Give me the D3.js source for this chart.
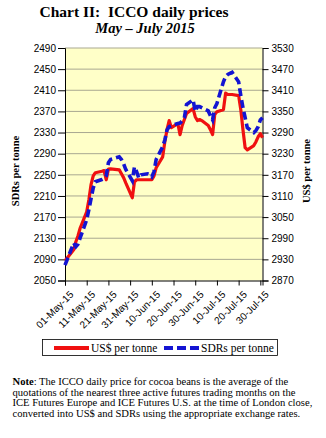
<!DOCTYPE html>
<html><head><meta charset="utf-8">
<script src="https://cdn.jsdelivr.net/npm/d3@7"></script>
<style>body{margin:0;background:#fff}svg{display:block}</style>
</head><body>
<svg id="c" width="326" height="438"></svg>
<script>
const dates = ["2015-05-01","2015-05-05","2015-05-06","2015-05-07","2015-05-08",
"2015-05-11","2015-05-12","2015-05-13","2015-05-14","2015-05-15",
"2015-05-18","2015-05-19","2015-05-20","2015-05-21","2015-05-22",
"2015-05-26","2015-05-27","2015-05-28","2015-05-29",
"2015-06-01","2015-06-02","2015-06-03","2015-06-04","2015-06-05",
"2015-06-08","2015-06-09","2015-06-10","2015-06-11","2015-06-12",
"2015-06-15","2015-06-16","2015-06-17","2015-06-18","2015-06-19",
"2015-06-22","2015-06-23","2015-06-24","2015-06-25","2015-06-26",
"2015-06-29","2015-06-30","2015-07-01","2015-07-02","2015-07-03",
"2015-07-06","2015-07-07","2015-07-08","2015-07-09","2015-07-10",
"2015-07-13","2015-07-14","2015-07-15","2015-07-16","2015-07-17",
"2015-07-20","2015-07-21","2015-07-22","2015-07-23","2015-07-24",
"2015-07-27","2015-07-28","2015-07-29","2015-07-30","2015-07-31"];
const usdPerTonne = [2926,2957,2980,2997,3019,
3065,3099,3142,3167,3176,
3180,3182,3156,3186,3187,
3184,3173,3162,3147,
3105,3150,3156,3156,3156,
3156,3156,3156,3167,3190,
3221,3264,3298,3324,3304,
3315,3284,3310,3327,3344,
3358,3335,3324,3327,3324,
3310,3298,3284,3341,3349,
3355,3402,3398,3398,3398,
3395,3355,3298,3247,3241,
3253,3264,3278,3287,3275];
const sdrPerTonne = [2079,2121,2114,2119,2131,
2165,2184,2205,2225,2237,
2241,2243,2248,2273,2279,
2284,2279,2271,2260,
2239,2265,2256,2244,2250,
2252,2250,2246,2256,2279,
2303,2316,2335,2341,2343,
2347,2348,2352,2358,2383,
2392,2370,2379,2379,2377,
2371,2362,2354,2377,2385,
2426,2436,2440,2442,2444,
2426,2400,2377,2358,2339,
2330,2334,2341,2354,2358];
const sdrTicks = [2050,2090,2130,2170,2210,2250,2290,2330,2370,2410,2450,2490];
const usdTicks = [2870,2930,2990,3050,3110,3170,3230,3290,3350,3410,3470,3530];
const xTickDates = ["2015-05-01","2015-05-11","2015-05-21","2015-05-31","2015-06-10",
"2015-06-20","2015-06-30","2015-07-10","2015-07-20","2015-07-30"];
const seriesNames = ["US$ per tonne","SDRs per tonne"];
const noteLines = [
 ["Note", ": The ICCO daily price for cocoa beans is the average of the"],
 ["", "quotations of the nearest three active futures trading months on the"],
 ["", "ICE Futures Europe and ICE Futures U.S. at the time of London close,"],
 ["", "converted into US$ and SDRs using the appropriate exchange rates."]];

const parse = d3.utcParse("%Y-%m-%d");
const svg = d3.select("#c");
const L = 65, R = 262.5, T = 48, B = 280.5;
const x = d3.scaleUtc().domain([parse("2015-05-01"), parse("2015-07-31")]).range([L, R]);
const yL = d3.scaleLinear().domain([2050, 2490]).range([B, T]);
const yR = d3.scaleLinear().domain([2870, 3530]).range([B, T]);
const serif = "'Liberation Serif','Times New Roman',serif";
const sans = "'Liberation Sans',Arial,sans-serif";

// title
svg.append("text").attr("x", 134).attr("y", 16.5).attr("text-anchor", "middle")
  .attr("font-family", serif).attr("font-weight", "bold").attr("font-size", 15.5)
  .style("white-space", "pre")
  .text("Chart II:  ICCO daily prices");
svg.append("text").attr("x", 145).attr("y", 32.5).attr("text-anchor", "middle")
  .attr("font-family", serif).attr("font-weight", "bold").attr("font-style", "italic").attr("font-size", 14.5)
  .text("May \u2013 July 2015");

// plot bg
svg.append("rect").attr("x", L).attr("y", T).attr("width", R - L).attr("height", B - T).attr("fill", "#FFFFC8");
// grid
svg.append("g").selectAll("line").data(sdrTicks.slice(1)).join("line")
  .attr("x1", L).attr("x2", R).attr("y1", d => yL(d)).attr("y2", d => yL(d))
  .attr("stroke", "#A9A891").attr("stroke-width", 1);

// axes
const axL = svg.append("g").attr("transform", `translate(${L},0)`)
  .call(d3.axisLeft(yL).tickValues(sdrTicks).tickSize(7).tickPadding(2).tickFormat(d3.format("d")));
const axR = svg.append("g").attr("transform", `translate(${R},0)`)
  .call(d3.axisRight(yR).tickValues(usdTicks).tickSize(6).tickPadding(3).tickFormat(d3.format("d")));
const fmt = d3.utcFormat("%d-%b-%y");
const axB = svg.append("g").attr("transform", `translate(0,${B})`)
  .call(d3.axisBottom(x).tickValues(xTickDates.map(parse)).tickSize(5).tickFormat(fmt));
[axL, axR, axB].forEach(a => {
  a.selectAll("text").attr("font-family", sans).attr("font-size", 10).attr("fill", "#000");
  a.selectAll("line,path").attr("stroke", "#000");
});
axB.selectAll("text").attr("text-anchor", "end").attr("dx", 0).attr("dy", 0)
  .attr("transform", "translate(3,9) rotate(-45)");

// axis titles
svg.append("text").attr("transform", "translate(19,171) rotate(-90)").attr("text-anchor", "middle")
  .attr("font-family", serif).attr("font-weight", "bold").attr("font-size", 10.5).text("SDRs per tonne");
svg.append("text").attr("transform", "translate(310,171) rotate(-90)").attr("text-anchor", "middle")
  .attr("font-family", serif).attr("font-weight", "bold").attr("font-size", 10.5).text("US$ per tonne");

// lines
const pts = dates.map(parse);
const lineUsd = d3.line().x((d, i) => x(pts[i])).y(d => yR(d));
const lineSdr = d3.line().x((d, i) => x(pts[i])).y(d => yL(d));
svg.append("path").datum(usdPerTonne).attr("d", lineUsd).attr("fill", "none")
  .attr("stroke", "#F01010").attr("stroke-width", 3.2).attr("stroke-linejoin", "round");
svg.append("path").datum(sdrPerTonne).attr("d", lineSdr).attr("fill", "none")
  .attr("stroke", "#1414D2").attr("stroke-width", 3.6).attr("stroke-dasharray", "8,4");

// legend
const lg = svg.append("g");
lg.append("rect").attr("x", 42.5).attr("y", 339.5).attr("width", 235).attr("height", 16)
  .attr("fill", "#fff").attr("stroke", "#000").attr("stroke-width", 0.8);
lg.append("line").attr("x1", 54).attr("x2", 89).attr("y1", 348).attr("y2", 348)
  .attr("stroke", "#F01010").attr("stroke-width", 4);
lg.append("text").attr("x", 91).attr("y", 351.5).attr("font-family", serif).attr("font-size", 11.5).text(seriesNames[0]);
lg.append("line").attr("x1", 164).attr("x2", 199).attr("y1", 348).attr("y2", 348)
  .attr("stroke", "#1414D2").attr("stroke-width", 4).attr("stroke-dasharray", "9,4");
lg.append("text").attr("x", 201).attr("y", 351.5).attr("font-family", serif).attr("font-size", 11.5).text(seriesNames[1]);

// note
const nt = svg.append("g");
noteLines.forEach((ln, i) => {
  const t = nt.append("text").attr("x", 12.5).attr("y", 385 + i * 10.7)
    .attr("font-family", serif).attr("font-size", 10.6);
  if (ln[0]) t.append("tspan").attr("font-weight", "bold").text(ln[0]);
  t.append("tspan").text(ln[1]);
});
</script>
</body></html>
